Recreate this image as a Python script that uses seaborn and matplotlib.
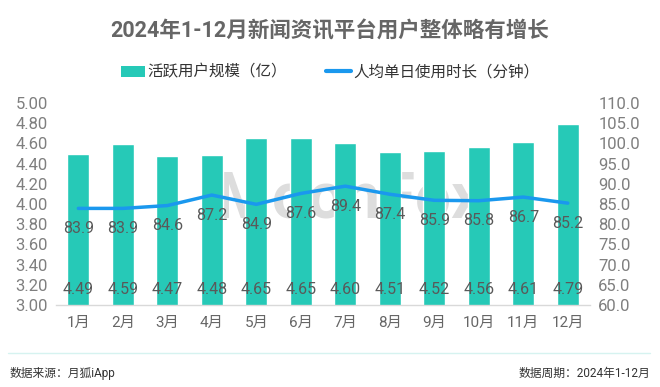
import matplotlib
matplotlib.use("Agg")
import matplotlib.pyplot as plt
import seaborn as sns
import pandas as pd
from matplotlib.patches import Patch
from matplotlib.lines import Line2D

months = ["1月", "2月", "3月", "4月", "5月", "6月", "7月", "8月", "9月", "10月", "11月", "12月"]
active_users = [4.49, 4.59, 4.47, 4.48, 4.65, 4.65, 4.60, 4.51, 4.52, 4.56, 4.61, 4.79]
daily_minutes = [83.9, 83.9, 84.6, 87.2, 84.9, 87.6, 89.4, 87.4, 85.9, 85.8, 86.7, 85.2]
left_ticks = [3.00, 3.20, 3.40, 3.60, 3.80, 4.00, 4.20, 4.40, 4.60, 4.80, 5.00]
right_ticks = [60, 65, 70, 75, 80, 85, 90, 95, 100, 105, 110]

title = "2024年1-12月新闻资讯平台用户整体略有增长"
bar_name = "活跃用户规模（亿）"
line_name = "人均单日使用时长（分钟）"
source = "数据来源：月狐iApp"
period = "数据周期：2024年1-12月"

sns.set_theme(style="white")
plt.rcParams["font.family"] = ["Roboto", "Noto Sans CJK SC", "DejaVu Sans"]

TEAL = "#26C9B7"
BLUE = "#1A98EE"
GREY = "#595959"
TICK = "#7F7F7F"

df = pd.DataFrame({"month": months, "users": active_users, "minutes": daily_minutes})

fig = plt.figure(figsize=(6.6, 3.87), dpi=100)
ax = fig.add_axes([0.085, 0.212, 0.809, 0.522])

sns.barplot(data=df, x="month", y="users", color=TEAL, width=0.5, ax=ax,
            saturation=1, zorder=2)
ax.set_ylim(3.0, 5.0)
ax.set_yticks(left_ticks)
ax.set_yticklabels([f"{v:.2f}" for v in left_ticks], fontsize=12, color=TICK)
ax.set_xlim(-0.5, 11.5)
ax.set_xlabel("")
ax.set_ylabel("")
ax.tick_params(axis="x", length=0, pad=8, labelsize=11, labelcolor="#666666")
ax.tick_params(axis="y", length=0, pad=6)
for s in ["top", "right", "left"]:
    ax.spines[s].set_visible(False)
ax.spines["bottom"].set_color("#D9D9D9")
ax.spines["bottom"].set_linewidth(1)

ax.text(0.55, 0.52, "MoonFox", transform=ax.transAxes, ha="center", va="center",
        fontsize=46, fontweight="bold", color="#DDDDDD", zorder=1)

for i, v in enumerate(active_users):
    ax.annotate(f"{v:.2f}", xy=(i, 3.0), xytext=(0, 11), textcoords="offset points",
                ha="center", va="center", fontsize=11.5, color=GREY, zorder=3)

ax2 = ax.twinx()
sns.lineplot(data=df, x="month", y="minutes", color=BLUE, linewidth=2.5, ax=ax2,
             sort=False)
ax2.set_ylim(60, 110)
ax2.set_yticks(right_ticks)
ax2.set_yticklabels([f"{v:.1f}" for v in right_ticks], fontsize=12, color=TICK)
ax2.set_ylabel("")
ax2.tick_params(axis="y", length=0, pad=6)
for s in ["top", "right", "left", "bottom"]:
    ax2.spines[s].set_visible(False)
for i, v in enumerate(daily_minutes):
    ax2.annotate(f"{v:.1f}", xy=(i, v), xytext=(0, -14.5), textcoords="offset points",
                 ha="center", va="center", fontsize=11.5, color=GREY)

fig.text(0.5, 0.92, title, ha="center", va="center", fontsize=15.5,
         fontweight="bold", color="#666666")

handles = [Patch(facecolor=TEAL, edgecolor="none"),
           Line2D([0], [0], color=BLUE, linewidth=3)]
fig.legend(handles, [bar_name, line_name], loc="center", bbox_to_anchor=(0.5, 0.814),
           ncol=2, frameon=False, fontsize=11.2, handlelength=1.6, handleheight=0.7,
           columnspacing=2.5, handletextpad=0.15, labelcolor="#333333")

fig.add_artist(Line2D([0.012, 0.985], [0.088, 0.088], color="#D6F3F0", linewidth=1))
fig.text(0.014, 0.036, source, ha="left", va="center", fontsize=8.5, color="#333333")
fig.text(0.985, 0.036, period, ha="right", va="center", fontsize=8.5, color="#333333")

fig.savefig("out.png", dpi=100)
